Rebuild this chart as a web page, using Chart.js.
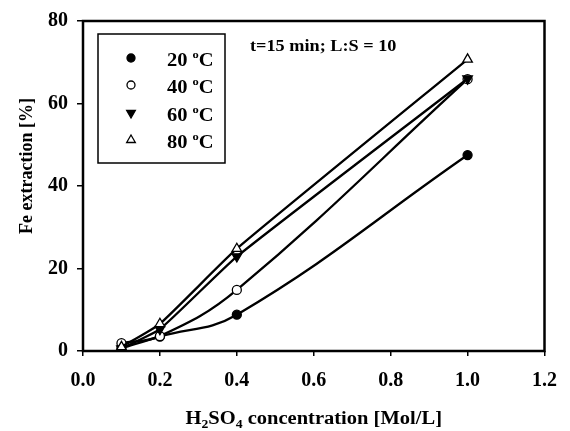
<!DOCTYPE html>
<html>
<head>
<meta charset="utf-8">
<script src="https://cdn.jsdelivr.net/npm/chart.js@4/dist/chart.umd.min.js"></script>
<style>
  html, body { margin: 0; padding: 0; background: #fff; }
  #wrap { width: 570px; height: 431px; }
</style>
</head>
<body>
<div id="wrap"><canvas id="chart" width="570" height="431"></canvas></div>
<script>
// data
const concentration = [0.1, 0.2, 0.4, 1.0];
const fe20 = [0.7, 3.5, 8.8, 47.5];
const fe40 = [1.9, 3.6, 14.8, 65.9];
const fe60 = [0.6, 5.3, 22.9, 66.0];
const fe80 = [1.0, 6.6, 24.8, 70.7];

const tempLabels = ['20', '40', '60', '80'];
const xTicks = [0, 0.2, 0.4, 0.6, 0.8, 1.0, 1.2];
const yTicks = [0, 20, 40, 60, 80];
const note = 't=15 min; L:S = 10';

const serif = "'Liberation Serif', 'Times New Roman', serif";
const stretch = 1.14; // the original lettering is a bit wide

function pts(ys) {
  return concentration.map((x, i) => ({ x: x, y: ys[i] }));
}

// marker looks
const markers = [
  { style: 'circle', bg: '#000', rot: 0, r: 4.5 },
  { style: 'circle', bg: '#fff', rot: 0, r: 4.5 },
  { style: 'triangle', bg: '#000', rot: 180, r: 5.5 },
  { style: 'triangle', bg: '#fff', rot: 0, r: 5.5 }
];

const series = [fe20, fe40, fe60, fe80];
const tensions = [0.4, 0.4, 0.15, 0.15];

const datasets = series.map((ys, i) => ({
  label: tempLabels[i] + ' oC',
  data: pts(ys),
  order: 4 - i,
  borderColor: '#000',
  borderWidth: 2.3,
  backgroundColor: markers[i].bg,
  pointStyle: markers[i].style,
  pointRotation: markers[i].rot,
  pointRadius: markers[i].r,
  pointBorderColor: '#000',
  pointBackgroundColor: markers[i].bg,
  pointBorderWidth: 1.3,
  tension: tensions[i],
  fill: false
}));

// text drawn a little wider, like the scan
function wideText(ctx, str, x, y) {
  ctx.save();
  ctx.translate(x, y);
  ctx.scale(stretch, 1);
  ctx.fillText(str, 0, 0);
  ctx.restore();
  return ctx.measureText(str).width * stretch;
}

// frame, legend box, note and axis titles
const decor = {
  id: 'decor',
  afterDraw(chart) {
    const ctx = chart.ctx;
    const a = chart.chartArea;
    ctx.save();

    // plot frame
    ctx.strokeStyle = '#000';
    ctx.lineWidth = 2.5;
    ctx.strokeRect(a.left, a.top, a.right - a.left, a.bottom - a.top);

    // legend
    ctx.lineWidth = 1.5;
    ctx.strokeRect(98, 34, 127, 129);
    const rows = [58, 85, 113, 140];
    rows.forEach((cy, i) => {
      ctx.fillStyle = markers[i].bg;
      ctx.strokeStyle = '#000';
      ctx.lineWidth = 1.3;
      Chart.helpers.drawPoint(ctx, {
        pointStyle: markers[i].style,
        rotation: markers[i].rot,
        radius: markers[i].r - 0.5,
        borderWidth: 1.3
      }, 131, cy);

      ctx.fillStyle = '#000';
      ctx.textBaseline = 'alphabetic';
      ctx.textAlign = 'left';
      ctx.font = 'bold 18px ' + serif;
      let x = 167;
      const base = cy + 8;
      x += wideText(ctx, tempLabels[i], x, base) + 5;
      ctx.font = 'bold 11px ' + serif;
      x += wideText(ctx, 'o', x, base - 8);
      ctx.font = 'bold 18px ' + serif;
      wideText(ctx, 'C', x, base);
    });

    // note
    ctx.font = 'bold 16px ' + serif;
    ctx.fillStyle = '#000';
    ctx.textAlign = 'left';
    wideText(ctx, note, 250, 51);

    // y title
    ctx.save();
    ctx.translate(27, 166);
    ctx.rotate(-Math.PI / 2);
    ctx.textAlign = 'center';
    ctx.textBaseline = 'middle';
    ctx.font = 'bold 18px ' + serif;
    ctx.fillText('Fe extraction [%]', 0, 0);
    ctx.restore();

    // x title with subscripts
    const parts = [
      ['H', 18, 0], ['2', 12, 4], ['SO', 18, 0], ['4', 12, 4], [' concentration [Mol/L]', 18, 0]
    ];
    let w = 0;
    parts.forEach(p => {
      ctx.font = 'bold ' + p[1] + 'px ' + serif;
      w += ctx.measureText(p[0]).width * stretch;
    });
    let x = (a.left + a.right) / 2 - w / 2;
    ctx.textAlign = 'left';
    ctx.textBaseline = 'alphabetic';
    parts.forEach(p => {
      ctx.font = 'bold ' + p[1] + 'px ' + serif;
      x += wideText(ctx, p[0], x, 424 + p[2]);
    });

    ctx.restore();
  }
};

const ctx1 = document.getElementById('chart').getContext('2d');
const myChart = new Chart(ctx1, {
  type: 'line',
  data: { datasets: datasets },
  options: {
    responsive: false,
    animation: false,
    layout: { padding: { top: 16, right: 22, left: 0, bottom: 0 } },
    plugins: {
      legend: { display: false },
      tooltip: { enabled: false }
    },
    scales: {
      x: {
        type: 'linear',
        min: 0,
        max: 1.2,
        afterBuildTicks: s => { s.ticks = xTicks.map(v => ({ value: v })); },
        afterFit: s => { s.height = 80; },
        ticks: {
          color: '#000',
          padding: 13,
          maxRotation: 0,
          font: { family: serif, size: 20, weight: 'bold' },
          callback: v => Number(v).toFixed(1)
        },
        grid: { drawOnChartArea: false, drawTicks: true, tickLength: 5, color: '#000', lineWidth: 1.5 },
        border: { display: false }
      },
      y: {
        min: 0,
        max: 80,
        afterBuildTicks: s => { s.ticks = yTicks.map(v => ({ value: v })); },
        afterFit: s => { s.width = 83; },
        ticks: {
          color: '#000',
          padding: 9,
          font: { family: serif, size: 20, weight: 'bold' }
        },
        grid: { drawOnChartArea: false, drawTicks: true, tickLength: 6, color: '#000', lineWidth: 1.5 },
        border: { display: false }
      }
    }
  },
  plugins: [decor]
});
</script>
</body>
</html>
